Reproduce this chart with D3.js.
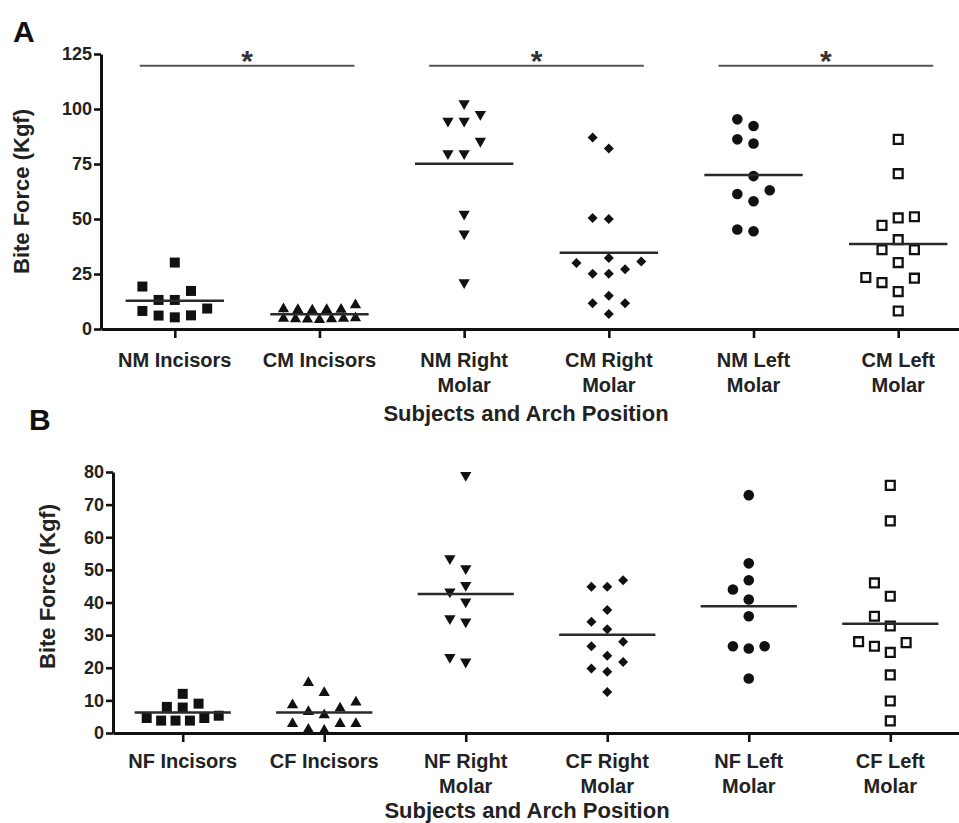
<!DOCTYPE html>
<html>
<head>
<meta charset="utf-8">
<script src="https://cdn.jsdelivr.net/npm/d3@7"></script>
<style>
  body { margin: 0; background: #fff; }
  svg text { font-family: "Liberation Sans", Arial, Helvetica, sans-serif; }
</style>
</head>
<body>
<svg id="chart" width="959" height="823"></svg>
<script>
// ---------------- DATA ----------------
const categoriesA = ["NM Incisors", "CM Incisors", "NM Right\nMolar", "CM Right\nMolar", "NM Left\nMolar", "CM Left\nMolar"];
const categoriesB = ["NF Incisors", "CF Incisors", "NF Right\nMolar", "CF Right\nMolar", "NF Left\nMolar", "CF Left\nMolar"];

const nmIncisors   = [30.2, 19.3, 9.3, 13.2, 13.2, 17.3, 6.1, 5.3, 6.2, 8.2];
const cmIncisors   = [8.7, 8.9, 10.9, 8.5, 8.7, 9.1, 4.4, 4.8, 4.5, 4.2, 4.6, 4.8, 5.0];
const nmRightMolar = [102.5, 97.6, 94.6, 94.6, 85.4, 79.8, 79.8, 52.3, 43.3, 21.1];
const cmRightMolar = [87.0, 82.0, 50.5, 50.0, 30.7, 32.3, 30.0, 27.2, 25.1, 25.1, 15.1, 11.7, 11.7, 6.8];
const nmLeftMolar  = [95.3, 92.3, 86.2, 84.3, 69.5, 63.1, 61.4, 58.1, 44.4, 45.2];
const cmLeftMolar  = [86.2, 70.6, 51.0, 50.5, 47.1, 40.6, 36.0, 36.0, 30.2, 23.4, 21.1, 23.1, 17.0, 8.2];

const nfIncisors   = [12.0, 9.0, 8.0, 7.8, 4.6, 3.8, 3.8, 5.3, 3.8, 4.6];
const cfIncisors   = [15.4, 12.3, 8.6, 9.4, 6.5, 7.6, 5.5, 2.8, 2.8, 1.1, 2.8, 0.8];
const nfRightMolar = [79.0, 53.5, 50.4, 45.3, 43.3, 40.2, 35.1, 34.1, 21.8, 23.2];
const cfRightMolar = [46.8, 44.8, 44.8, 37.7, 34.1, 31.8, 28.0, 26.6, 23.7, 21.8, 19.8, 18.8, 12.6];
const nfLeftMolar  = [72.9, 52.0, 46.8, 44.0, 40.9, 35.8, 26.6, 25.9, 26.6, 16.7];
const cfLeftMolar  = [75.9, 65.0, 46.0, 41.9, 35.8, 32.8, 27.7, 26.6, 24.7, 28.0, 17.8, 9.8, 3.7];

const yTicksA = [0, 25, 50, 75, 100, 125];
const yTicksB = [0, 10, 20, 30, 40, 50, 60, 70, 80];
const sigPairsA = [[0, 1], [2, 3], [4, 5]];
const sigPairsB = [];
const yTitle = "Bite Force (Kgf)";
const xTitle = "Subjects and Arch Position";

// ---------------- STYLE / LAYOUT ----------------
const INK = "#111";
const svg = d3.select("#chart");

const symbolStyles = [
  { type: d3.symbolSquare,   size: 100, rot: 0,   fill: INK,    stroke: "none", sw: 0 },
  { type: d3.symbolTriangle, size: 55,  rot: 0,   fill: INK,    stroke: "none", sw: 0 },
  { type: d3.symbolTriangle, size: 55,  rot: 180, fill: INK,    stroke: "none", sw: 0 },
  { type: d3.symbolSquare,   size: 50,  rot: 45,  fill: INK,    stroke: "none", sw: 0 },
  { type: d3.symbolCircle,   size: 88,  rot: 0,   fill: INK,    stroke: "none", sw: 0 },
  { type: d3.symbolSquare,   size: 78,  rot: 0,   fill: "#fff", stroke: INK,    sw: 2.3 }
];

// column scatter layout (Prism-like)
function columnOffsets(values, y, colW, T, maxHalf) {
  const n = values.length;
  const idx = d3.range(n).sort((a, b) => values[a] - values[b]);
  const py = values.map(v => y(v));
  const cols = new Array(n);
  const placed = [];
  const order = [0];
  for (let k = 1; k <= 30; k++) order.push(-k, k);
  for (const i of idx) {
    for (const c of order) {
      if (placed.every(p => p.col !== c || Math.abs(p.py - py[i]) >= T)) {
        cols[i] = c; placed.push({ col: c, py: py[i] }); break;
      }
    }
  }
  if (d3.max(cols, c => Math.abs(c)) <= 2) return cols.map(c => c * colW);

  // dense group: arrange in horizontal rows, compressed
  const gap = 5, span = 12;
  const rows = [];
  let row = [];
  for (const i of idx) {
    if (row.length) {
      const last = row[row.length - 1], first = row[0];
      if (py[last] - py[i] > gap || py[first] - py[i] > span) { rows.push(row); row = []; }
    }
    row.push(i);
  }
  if (row.length) rows.push(row);
  const offs = new Array(n);
  for (const r of rows) {
    const m = r.length;
    const sp = m > 1 ? Math.min(colW, 2 * maxHalf / (m - 1)) : 0;
    const slots = [];
    if (m % 2) { slots.push(0); for (let k = 1; slots.length < m; k++) slots.push(-k, k); }
    else { for (let k = 0.5; slots.length < m; k++) slots.push(-k, k); }
    r.forEach((i, j) => offs[i] = slots[j] * sp);
  }
  return offs;
}

function drawPanel(cfg) {
  const g = svg.append("g");
  const x = d3.scalePoint().domain(cfg.categories).range(cfg.xRange).padding(cfg.padding);
  const y = d3.scaleLinear().domain(cfg.yDomain).range(cfg.yRange);
  const step = x.step();
  const axisY = cfg.yRange[0];

  // axes
  const xa = g.append("g").attr("transform", `translate(0,${axisY})`)
    .call(d3.axisBottom(x).tickSize(9).tickSizeOuter(0).tickFormat(""));
  const ya = g.append("g").attr("transform", `translate(${cfg.xRange[0]},0)`)
    .call(d3.axisLeft(y).tickValues(cfg.yTicks).tickSize(7).tickSizeOuter(0).tickPadding(2));
  [xa, ya].forEach(a => {
    a.select(".domain").attr("stroke", INK).attr("stroke-width", 3);
    a.selectAll(".tick line").attr("stroke", INK).attr("stroke-width", 2.6);
  });
  ya.selectAll(".tick text").attr("fill", "#222").attr("font-size", 18).attr("font-weight", "bold")
    .style("font-family", '"Liberation Sans", Arial, sans-serif');

  // category labels
  cfg.categories.forEach(c => {
    const t = g.append("text").attr("x", x(c)).attr("y", axisY + cfg.labelDy)
      .attr("text-anchor", "middle").attr("font-size", 20).attr("font-weight", "bold").attr("fill", "#222");
    c.split("\n").forEach((line, i) => {
      t.append("tspan").attr("x", x(c)).attr("dy", i === 0 ? 0 : 25).text(line);
    });
  });

  // axis titles
  g.append("text").attr("x", cfg.xTitlePos[0]).attr("y", cfg.xTitlePos[1])
    .attr("text-anchor", "middle").attr("font-size", 22).attr("font-weight", "bold").attr("fill", "#222")
    .text(xTitle);
  g.append("text")
    .attr("transform", `translate(${cfg.yTitlePos[0]},${cfg.yTitlePos[1]}) rotate(-90)`)
    .attr("text-anchor", "middle").attr("font-size", 22).attr("font-weight", "bold").attr("fill", "#222")
    .text(yTitle);
  g.append("text").attr("x", cfg.letterPos[0]).attr("y", cfg.letterPos[1])
    .attr("font-size", 30).attr("font-weight", "bold").attr("fill", "#111").text(cfg.letter);

  // points
  const colW = 0.112 * step;
  cfg.groups.forEach((vals, gi) => {
    const st = symbolStyles[gi];
    const offs = columnOffsets(vals, y, colW, 14.5, 36);
    const sym = d3.symbol().type(st.type).size(st.size);
    g.append("g").selectAll("path").data(vals).join("path")
      .attr("d", sym)
      .attr("transform", (v, i) => `translate(${x(cfg.categories[gi]) + offs[i]},${y(v)}) rotate(${st.rot})`)
      .attr("fill", st.fill).attr("stroke", st.stroke).attr("stroke-width", st.sw);
    // mean line
    const m = d3.mean(vals);
    g.append("line")
      .attr("x1", x(cfg.categories[gi]) - 0.34 * step).attr("x2", x(cfg.categories[gi]) + 0.34 * step)
      .attr("y1", y(m)).attr("y2", y(m))
      .attr("stroke", "#2a2a2a").attr("stroke-width", 2.5);
  });

  // significance bars
  cfg.sigPairs.forEach(([a, b]) => {
    const mid = (x(cfg.categories[a]) + x(cfg.categories[b])) / 2;
    const half = (x(cfg.categories[b]) - x(cfg.categories[a]) + 70) / 2;
    g.append("line").attr("x1", mid - half).attr("x2", mid + half)
      .attr("y1", cfg.sigY).attr("y2", cfg.sigY)
      .attr("stroke", "#555").attr("stroke-width", 2);
    g.append("text").attr("x", mid).attr("y", cfg.sigY + 5)
      .attr("text-anchor", "middle").attr("font-size", 30).attr("font-weight", "bold").attr("fill", "#333")
      .text("*");
  });
}

drawPanel({
  letter: "A", letterPos: [13, 42],
  categories: categoriesA,
  groups: [nmIncisors, cmIncisors, nmRightMolar, cmRightMolar, nmLeftMolar, cmLeftMolar],
  yDomain: [0, 125], yRange: [329, 54], yTicks: yTicksA,
  xRange: [101, 972], padding: 0.51,
  labelDy: 37.7, xTitlePos: [526, 421], yTitlePos: [28.5, 191.5],
  sigPairs: sigPairsA, sigY: 65.7
});

drawPanel({
  letter: "B", letterPos: [29, 430],
  categories: categoriesB,
  groups: [nfIncisors, cfIncisors, nfRightMolar, cfRightMolar, nfLeftMolar, cfLeftMolar],
  yDomain: [0, 80], yRange: [733, 472], yTicks: yTicksB,
  xRange: [113, 960], padding: 0.4926,
  labelDy: 35, xTitlePos: [527, 818], yTitlePos: [55, 586.5],
  sigPairs: sigPairsB, sigY: 0
});
</script>
</body>
</html>
